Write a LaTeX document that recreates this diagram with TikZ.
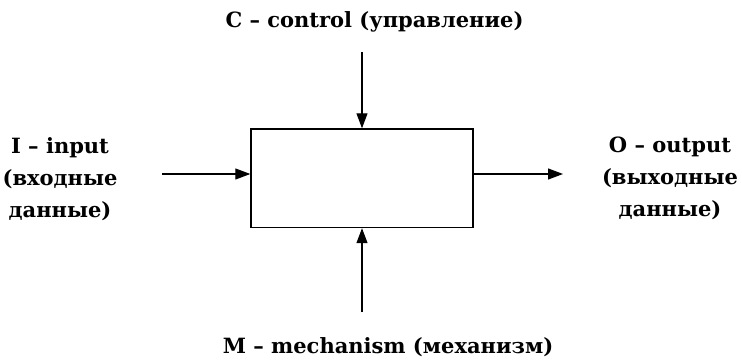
\documentclass[tikz,border=0pt]{standalone}
\usepackage{fontspec}
\setmainfont{DejaVu Serif}
\usetikzlibrary{arrows.meta}
\begin{document}
\begin{tikzpicture}[x=1pt,y=1pt,
  lbl/.style={font=\bfseries\fontsize{21}{32}\selectfont, inner sep=0pt, align=center},
  conn/.style={line width=1.2pt, -{Triangle[length=15pt,width=11pt]}},
  funcbox/.style={draw, line width=1.4pt, minimum width=222pt, minimum height=98.5pt, inner sep=0pt}]
\useasboundingbox (0,0) rectangle (742,364);
\node[funcbox] (box) at (362,185.75) {};
\coordinate (cin) at (162,190);
\coordinate (cout) at (563,190);
\coordinate (ctop) at (362,311.5);
\coordinate (cbot) at (362,51.5);
\draw[conn] (cin) -- (cin -| box.west);
\draw[conn] (box.east |- cout) -- (cout);
\draw[conn] (ctop) -- (box.north);
\draw[conn] (cbot) -- (box.south);
\node[lbl, anchor=base] (lc) at (374.5,336) {C – control (управление)};
\node[lbl, anchor=base] (lm) at (388,10) {M – mechanism (механизм)};
\node[lbl, anchor=north] (li) at (60,227) {I – input\\(входные\\данные)};
\node[lbl, anchor=north] (lo) at (670,227) {O – output\\(выходные\\данные)};
\end{tikzpicture}
\end{document}
